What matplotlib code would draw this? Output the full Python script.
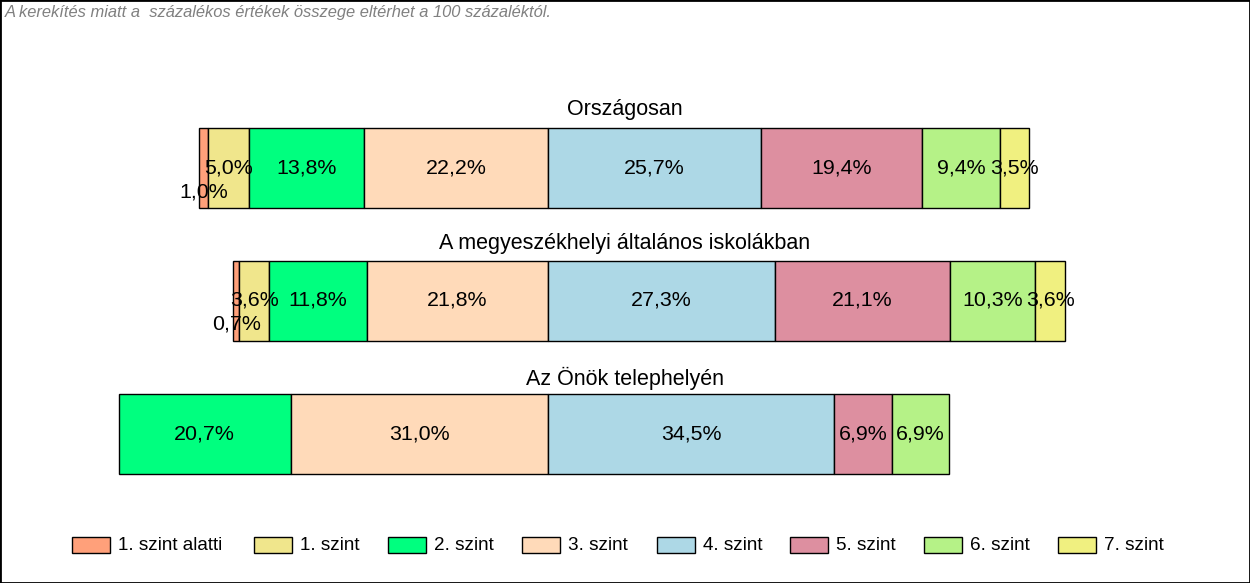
import matplotlib
matplotlib.use("Agg")
import matplotlib.pyplot as plt
from matplotlib.patches import Rectangle

plt.rcParams['font.family'] = ['Liberation Sans', 'DejaVu Sans']

# ---- data ----
levels = ["1. szint alatti", "1. szint", "2. szint", "3. szint",
          "4. szint", "5. szint", "6. szint", "7. szint"]
colors = ["#FFA07A", "#F0E68C", "#00FF7F", "#FFDAB9",
          "#ADD8E6", "#DD8FA0", "#B5F287", "#F0F080"]
groups = ["Országosan", "A megyeszékhelyi általános iskolákban", "Az Önök telephelyén"]
orszagosan = [1.0, 5.0, 13.8, 22.2, 25.7, 19.4, 9.4, 3.5]
megyeszekhely = [0.7, 3.6, 11.8, 21.8, 27.3, 21.1, 10.3, 3.6]
telephely = [0.0, 0.0, 20.7, 31.0, 34.5, 6.9, 6.9, 0.0]
series = [orszagosan, megyeszekhely, telephely]
note = "A kerekítés miatt a  százalékos értékek összege eltérhet a 100 százaléktól."

# ---- layout ----
W, H = 1250, 583
px_per_pct = 8.30
anchor_px = 548          # boundary between level 3 and 4
row_centers = [168, 300.5, 433.5]
row_height = 80
title_y = [110, 244, 378]

fig = plt.figure(figsize=(W / 100, H / 100), dpi=100)
ax = fig.add_axes([0, 0, 1, 1])
ax.set_xlim(-anchor_px / px_per_pct, (W - anchor_px) / px_per_pct)
ax.set_ylim(H, 0)
ax.axis('off')

for vals, yc, title, ty in zip(series, row_centers, groups, title_y):
    left = -sum(vals[:4])
    for v, c in zip(vals, colors):
        if v > 0:
            ax.barh(yc, v, left=left, height=row_height, color=c,
                    edgecolor='black', linewidth=1.0)
            label = f"{v:.1f}%".replace('.', ',')
            ly = yc + 24 if v < 2 else yc
            ax.text(left + v / 2, ly, label, ha='center', va='center',
                    fontsize=15.4, color='black')
        left += v
    fig.text(0.5, 1 - ty / H, title, ha='center', va='center', fontsize=15.5)

# note
fig.text(5 / W, 1 - 13 / H, note, ha='left', va='center', fontsize=11.9,
         style='italic', color='#808080')

# legend (manual)
leg_x = [72, 254, 388, 522, 657, 790, 924, 1058]
leg_y = 545
for x, lab, c in zip(leg_x, levels, colors):
    fig.patches.append(Rectangle((x / W, 1 - (leg_y + 8) / H), 38 / W, 16 / H,
                                 transform=fig.transFigure, facecolor=c,
                                 edgecolor='black', linewidth=1.0))
    fig.text((x + 46) / W, 1 - leg_y / H, lab, ha='left', va='center',
             fontsize=13.6)

# border
fig.patches.append(Rectangle((0, 0), 1, 1, transform=fig.transFigure,
                             fill=False, edgecolor='black', linewidth=2))

fig.savefig("out.png", dpi=100)
